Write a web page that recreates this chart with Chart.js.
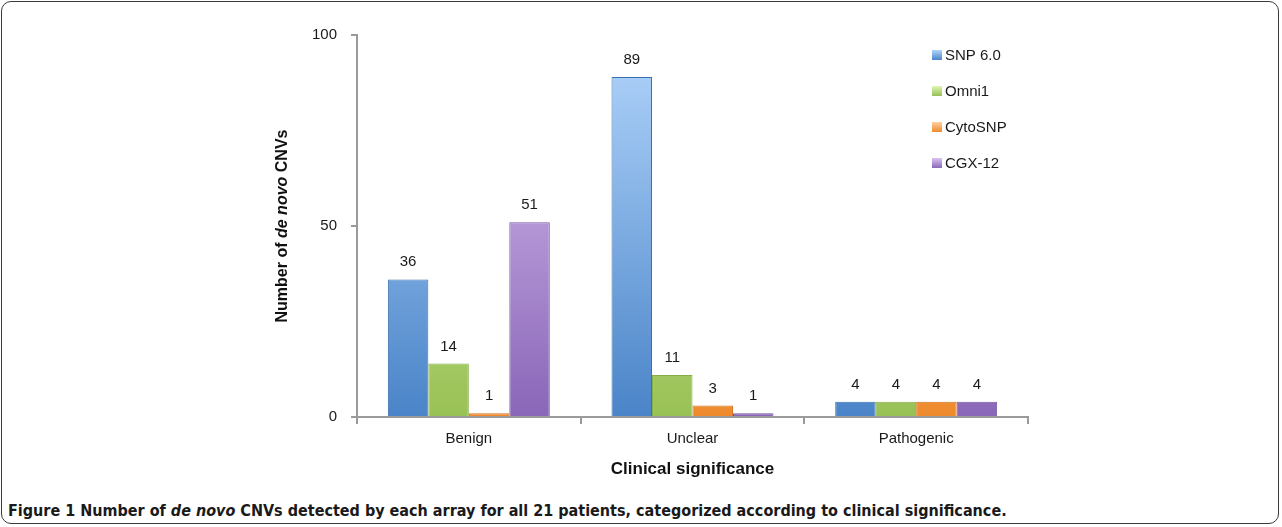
<!DOCTYPE html>
<html>
<head>
<meta charset="utf-8">
<script src="https://cdn.jsdelivr.net/npm/chart.js@4.4.1/dist/chart.umd.min.js"></script>
<style>
  html, body { margin: 0; padding: 0; background: #fff; }
  #frame {
    position: absolute; left: 1px; top: 1px; width: 1278px; height: 523px;
    border: 1.5px solid #3a3a3a; border-radius: 10px; box-sizing: border-box;
  }
  #wrap { position: absolute; left: 0; top: 0; width: 1282px; height: 490px; }
  #caption {
    position: absolute; left: 8px; top: 501px; white-space: nowrap;
    font-family: "Liberation Sans Narrow", "DejaVu Sans Condensed", sans-serif;
    font-size: 16px; font-weight: bold; color: #1a1a1a;
  }
</style>
</head>
<body>
<div id="frame"></div>
<div id="wrap"><canvas id="chart" width="1282" height="490"></canvas></div>
<div id="caption">Figure 1 Number of <i>de novo</i> CNVs detected by each array for all 21 patients, categorized according to clinical significance.</div>
<script>
const categories = [`Benign`, `Unclear`, `Pathogenic`];
const seriesNames = [`SNP 6.0`, `Omni1`, `CytoSNP`, `CGX-12`];
const snp60 = [36, 89, 4];
const omni1 = [14, 11, 4];
const cytoSnp = [1, 3, 4];
const cgx12 = [51, 1, 4];
const yTicks = [0, 50, 100];

// light (top) / dark (bottom) / edge colour per series
const palette = [
    [`#b3d6fc`, `#4a84c8`, `#3b70b0`],
    [`#e0f5b4`, `#98c155`, `#86ad45`],
    [`#fdd0a0`, `#ee8a2c`, `#d27420`],
    [`#dcc4f2`, `#8a66b8`, `#7656a4`]
];

const font = `"Liberation Sans", Arial, sans-serif`;

function barFill(index) {
    return context => {
        const area = context.chart.chartArea;
        if (!area) return palette[index][1];
        const g = context.chart.ctx.createLinearGradient(0, area.top, 0, area.bottom);
        g.addColorStop(0, palette[index][0]);
        g.addColorStop(1, palette[index][1]);
        return g;
    };
}

const valueLabels = {
    id: `valueLabels`,
    afterDatasetsDraw(chart) {
        const ctx = chart.ctx;
        ctx.save();
        ctx.font = `15px ${font}`;
        ctx.fillStyle = `#1a1a1a`;
        ctx.textAlign = `center`;
        ctx.textBaseline = `alphabetic`;
        chart.data.datasets.forEach((ds, i) => {
            chart.getDatasetMeta(i).data.forEach((bar, j) => {
                ctx.fillText(String(ds.data[j]), bar.x, bar.y - 13);
            });
        });
        ctx.restore();
    }
};

// y title has an italic part, so it is drawn by hand
const yTitle = {
    id: `yTitle`,
    afterDraw(chart) {
        const ctx = chart.ctx;
        const area = chart.chartArea;
        const parts = [
            [`Number of `, `bold 16px ${font}`],
            [`de novo`, `italic bold 16px ${font}`],
            [` CNVs`, `bold 16px ${font}`]
        ];
        ctx.save();
        let total = 0;
        parts.forEach(([t, f]) => { ctx.font = f; total += ctx.measureText(t).width; });
        ctx.translate(283, (area.top + area.bottom) / 2);
        ctx.rotate(-Math.PI / 2);
        ctx.fillStyle = `#111`;
        ctx.textBaseline = `middle`;
        let x = -total / 2;
        parts.forEach(([t, f]) => {
            ctx.font = f;
            ctx.fillText(t, x, 0);
            x += ctx.measureText(t).width;
        });
        ctx.restore();
    }
};

const sideLegend = {
    id: `sideLegend`,
    afterDraw(chart) {
        const ctx = chart.ctx;
        const x = 932, y0 = 55, step = 36;
        ctx.save();
        ctx.font = `15px ${font}`;
        ctx.textBaseline = `middle`;
        seriesNames.forEach((name, i) => {
            const y = y0 + i * step;
            const g = ctx.createLinearGradient(0, y - 5, 0, y + 5);
            g.addColorStop(0, palette[i][0]);
            g.addColorStop(1, palette[i][1]);
            ctx.fillStyle = g;
            ctx.fillRect(x, y - 5, 10, 10);
            ctx.fillStyle = `#1a1a1a`;
            ctx.fillText(name, x + 13, y + 1);
        });
        ctx.restore();
    }
};

const datasets = [snp60, omni1, cytoSnp, cgx12].map((values, i) => ({
    label: seriesNames[i],
    data: values,
    backgroundColor: barFill(i),
    borderColor: palette[i][2],
    borderWidth: 1,
    barPercentage: 1.0,
    categoryPercentage: 0.724
}));

new Chart(document.getElementById(`chart`), {
    type: `bar`,
    data: { labels: categories, datasets },
    options: {
        responsive: false,
        animation: false,
        layout: { padding: { left: 265, top: 35, right: 254, bottom: 0 } },
        plugins: {
            legend: { display: false },
            tooltip: { enabled: false }
        },
        scales: {
            x: {
                afterFit: scale => { scale.height = 73; },
                grid: { drawOnChartArea: false, drawTicks: true, tickLength: 7, color: `#9a9a9a`, lineWidth: 2 },
                border: { color: `#9a9a9a`, width: 2 },
                ticks: { color: `#1a1a1a`, font: { family: font, size: 15 }, padding: 6 },
                title: {
                    display: true, text: `Clinical significance`, color: `#111`,
                    font: { family: font, size: 17, weight: `bold` }, padding: { top: 10, bottom: 10 }
                }
            },
            y: {
                min: 0, max: 100,
                afterFit: scale => { scale.width = 92; },
                afterBuildTicks: scale => { scale.ticks = yTicks.map(v => ({ value: v })); },
                grid: { drawOnChartArea: false, drawTicks: true, tickLength: 6, color: `#9a9a9a`, lineWidth: 2 },
                border: { color: `#9a9a9a`, width: 2 },
                ticks: { color: `#1a1a1a`, font: { family: font, size: 15 }, padding: 14 }
            }
        }
    },
    plugins: [valueLabels, yTitle, sideLegend]
});
</script>
</body>
</html>
